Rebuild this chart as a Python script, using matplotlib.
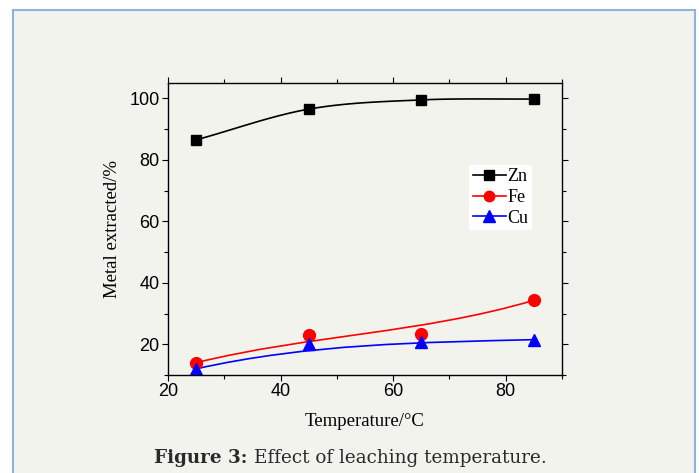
import numpy as np
import matplotlib
matplotlib.use("Agg")
import matplotlib.pyplot as plt
from matplotlib.patches import Rectangle, PathPatch
from matplotlib.path import Path
from matplotlib.ticker import MultipleLocator

# data
temps = [25, 45, 65, 85]
zn = [86.5, 96.5, 99.5, 99.8]
fe = [14.0, 23.0, 23.5, 34.3]
cu = [12.0, 20.2, 20.6, 21.5]


def catmull(x, y, n=40):
    # curve through the points, only used to draw the Zn line
    x = np.asarray(x, float)
    y = np.asarray(y, float)
    px = np.concatenate([[2 * x[0] - x[1]], x, [2 * x[-1] - x[-2]]])
    py = np.concatenate([[2 * y[0] - y[1]], y, [2 * y[-1] - y[-2]]])
    t = np.linspace(0, 1, n)
    xs, ys = [], []
    for i in range(1, len(px) - 2):
        for p, out in ((px, xs), (py, ys)):
            p0, p1, p2, p3 = p[i - 1], p[i], p[i + 1], p[i + 2]
            out.extend(0.5 * (2 * p1 + (-p0 + p2) * t
                              + (2 * p0 - 5 * p1 + 4 * p2 - p3) * t ** 2
                              + (-p0 + 3 * p1 - 3 * p2 + p3) * t ** 3))
    return np.array(xs), np.array(ys)


fig = plt.figure(figsize=(6.99, 4.73), dpi=100)
fig.patch.set_facecolor("white")
panel = Rectangle((13 / 699, -0.05), (695 - 13) / 699, 1 - 10 / 473 + 0.05,
                  transform=fig.transFigure, facecolor="#f3f3ee",
                  edgecolor="#8fb2e3", linewidth=1.5, zorder=-10)
fig.patches.append(panel)

ax = fig.add_axes([0.2403, 0.2072, 0.5637, 0.6173])
ax.set_facecolor("#f3f3ee")

series = [("Zn", zn, "black", "s", 7.5, "spline"),
          ("Fe", fe, "red", "o", 8.5, "bspline"),
          ("Cu", cu, "blue", "^", 9, "bspline")]
for name, vals, col, mk, ms, kind in series:
    if kind == "spline":
        sx, sy = catmull(temps, vals)
        ax.plot(sx, sy, color=col, lw=1.2)
    else:
        # B-spline style curve with the points as control points
        verts = list(zip(temps, vals))
        codes = [Path.MOVETO] + [Path.CURVE4] * (len(verts) - 1)
        ax.add_patch(PathPatch(Path(verts, codes), facecolor="none",
                               edgecolor=col, lw=1.2))
    ax.plot(temps, vals, linestyle="none", marker=mk, color=col, ms=ms)
    ax.plot([], [], color=col, lw=1.2, marker=mk, ms=ms - 1, label=name)

ax.set_xlim(20, 90)
ax.set_ylim(10, 105)
ax.xaxis.set_major_locator(MultipleLocator(20))
ax.xaxis.set_minor_locator(MultipleLocator(10))
ax.yaxis.set_major_locator(MultipleLocator(20))
ax.yaxis.set_minor_locator(MultipleLocator(10))
ax.tick_params(which="both", direction="out", top=True, right=True,
               labeltop=False, labelright=False)
ax.tick_params(which="major", length=4, width=0.8, labelsize=13, pad=2)
ax.tick_params(which="minor", length=3, width=0.8)
for lab in ax.get_xticklabels() + ax.get_yticklabels():
    lab.set_fontfamily("Liberation Sans")
for sp in ax.spines.values():
    sp.set_linewidth(1.0)

ax.set_xlabel("Temperature/°C", fontfamily="Liberation Serif", fontsize=13.5, labelpad=9)
ax.set_ylabel("Metal extracted/%", fontfamily="Liberation Serif", fontsize=13.5, labelpad=6)

ax.legend(loc="upper left", bbox_to_anchor=(0.765, 0.72), frameon=True,
          facecolor="white", edgecolor="none", fancybox=False, framealpha=1,
          prop={"family": "Liberation Serif", "size": 13},
          handlelength=1.8, handletextpad=0.1, labelspacing=0.2,
          borderpad=0.2, borderaxespad=0)

# caption: bold label followed by regular text
cap_y = 1 - 458 / 473
t1 = fig.text(154 / 699, cap_y, "Figure 3:", ha="left", va="center", fontsize=13.2,
              fontfamily="DejaVu Serif", fontweight="bold", color="#2a2a2a")
fig.canvas.draw()
bb = t1.get_window_extent()
fig.text((bb.x1 + 6) / 699, cap_y, "Effect of leaching temperature.", ha="left",
         va="center", fontsize=13.2, fontfamily="DejaVu Serif", color="#2a2a2a")

fig.savefig("out.png", dpi=100)
